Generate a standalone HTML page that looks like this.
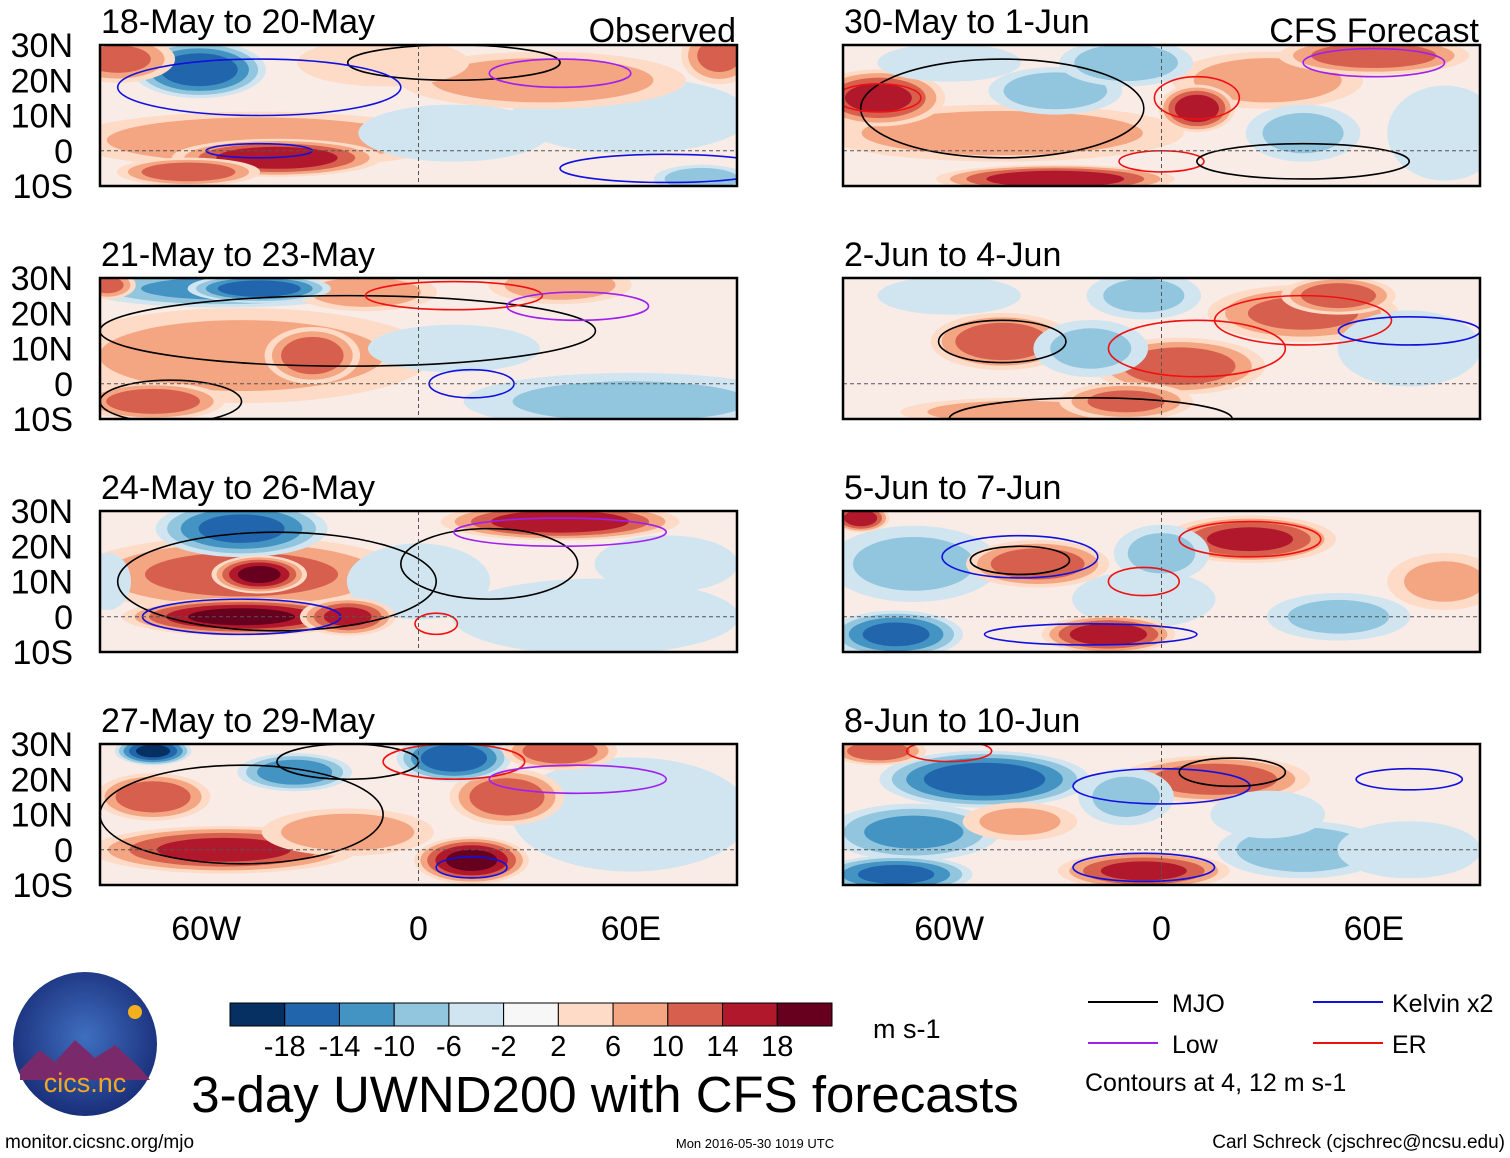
<!DOCTYPE html>
<html><head><meta charset="utf-8">
<style>
body{margin:0;background:#fff;}
svg{display:block;font-family:"Liberation Sans",sans-serif;}
</style></head>
<body>
<svg id="chart" width="1510" height="1158" viewBox="0 0 1510 1158" xmlns="http://www.w3.org/2000/svg">
<defs>
<radialGradient id="lg" cx="50%" cy="45%" r="55%"><stop offset="0" stop-color="#3f6fc0"/><stop offset="1" stop-color="#1a2f7a"/></radialGradient>
</defs>
<g id="panels"></g>
<g id="colorbar"></g>
<g>
<circle cx="85" cy="1044" r="72" fill="url(#lg)"/>
<path d="M20 1070 L40 1050 L55 1062 L75 1040 L95 1058 L115 1045 L140 1068 L150 1080 L20 1080Z" fill="#7a2a6a"/>
<circle cx="135" cy="1012" r="7" fill="#f2b01e"/>
<text x="85" y="1092" text-anchor="middle" font-size="27" fill="#f5a623">cics.nc</text>
</g>
<text x="873" y="1038" font-size="27">m s-1</text>
<text x="605" y="1112" text-anchor="middle" font-size="51">3-day UWND200 with CFS forecasts</text>
<g font-size="25">
<line x1="1088" y1="1002" x2="1158" y2="1002" stroke="#000" stroke-width="2"/><text x="1172" y="1012">MJO</text>
<line x1="1313" y1="1002" x2="1383" y2="1002" stroke="#1010e0" stroke-width="2"/><text x="1392" y="1012">Kelvin x2</text>
<line x1="1088" y1="1043" x2="1158" y2="1043" stroke="#a020f0" stroke-width="2"/><text x="1172" y="1053">Low</text>
<line x1="1313" y1="1043" x2="1383" y2="1043" stroke="#f01010" stroke-width="2"/><text x="1392" y="1053">ER</text>
<text x="1085" y="1091">Contours at 4, 12 m s-1</text>
</g>
<text x="5" y="1148" font-size="19">monitor.cicsnc.org/mjo</text>
<text x="755" y="1148" text-anchor="middle" font-size="13">Mon 2016-05-30 1019 UTC</text>
<text x="1505" y="1148" text-anchor="end" font-size="19">Carl Schreck (cjschrec@ncsu.edu)</text>
</svg>
<script>
const levels=[-18,-14,-10,-6,-2,2,6,10,14,18];
const colors=["#053061","#2166ac","#4393c3","#92c5de","#d1e5f0","#f7f7f7","#fddbc7","#f4a582","#d6604d","#b2182b","#67001f"];
const titles=["18-May to 20-May","21-May to 23-May","24-May to 26-May","27-May to 29-May","30-May to 1-Jun","2-Jun to 4-Jun","5-Jun to 7-Jun","8-Jun to 10-Jun"];
const latTicks=[30,20,10,0,-10];
const latLabels=["30N","20N","10N","0","10S"];
const lonTicks=[-60,0,60];
const lonLabels=["60W","0","60E"];
// blobs: [lon, lat, rxDeg, ryDeg, value]
const blobs0=[[-85,26,12,5,10],[-62,23,14,6,-16],[-45,3,40,6,9],[-40,-2,22,4,16],[-65,-6,15,3,12],[35,20,30,6,8],[10,5,20,6,-4],[60,10,25,8,-3],[85,27,8,6,10],[80,-8,10,3,-8],[-10,25,18,5,5]];
const blobs1=[[-55,27,30,4,-10],[-45,27,15,3,-16],[-88,28,6,3,10],[-50,8,40,10,7],[-30,8,10,6,12],[-75,-5,15,4,12],[60,-5,35,6,-6],[40,28,15,4,8],[-15,26,15,4,8],[10,10,18,5,-4]];
const blobs2=[[-50,25,18,6,-14],[-50,12,35,8,10],[-45,12,10,4,18],[-50,0,25,4,18],[-20,0,10,4,14],[40,27,25,4,16],[50,0,30,8,-4],[-88,10,5,6,-4],[0,10,15,8,-3],[70,15,15,6,-4]];
const blobs3=[[-75,28,8,3,-18],[-35,22,12,4,-12],[10,26,12,5,-16],[-75,15,12,5,12],[-55,0,28,5,14],[-20,5,18,5,8],[15,-3,12,5,18],[25,15,12,6,12],[60,10,25,12,-4],[40,28,12,4,12]];
const blobs4=[[-80,15,14,6,14],[-45,5,38,6,8],[-30,17,14,5,-8],[-10,25,14,5,-8],[-30,-8,25,3,16],[10,12,8,5,16],[30,20,20,6,8],[60,27,20,4,12],[40,5,12,6,-6],[80,5,12,10,-4],[-60,25,15,4,-5]];
const blobs5=[[-45,12,15,6,12],[-20,10,12,6,-6],[-5,25,12,5,-6],[5,5,18,6,12],[40,20,20,6,10],[50,25,12,4,12],[-40,-8,25,3,8],[-10,-5,14,4,10],[-60,25,15,4,-4],[70,10,15,8,-3]];
const blobs6=[[-85,28,6,3,16],[-70,15,18,8,-6],[-35,15,15,5,12],[-75,-5,14,5,-14],[-15,-5,14,4,16],[25,22,18,5,14],[0,18,10,6,-6],[50,0,15,5,-6],[80,10,12,6,6],[-5,5,15,6,-3]];
const blobs7=[[-80,28,10,3,12],[-50,20,22,6,-16],[-70,5,18,6,-10],[-75,-7,16,4,-14],[-40,8,12,4,6],[15,20,20,5,12],[-5,-6,18,4,14],[-10,15,10,6,-6],[40,0,18,6,-8],[30,10,12,5,-4],[70,0,15,6,-3]];
const blobSets=[blobs0,blobs1,blobs2,blobs3,blobs4,blobs5,blobs6,blobs7];
// contours: [type, lon, lat, rxDeg, ryDeg]
const cont=[
[["k",10,25,30,5],["b",-45,18,40,8],["b",-45,0,15,2],["p",40,22,20,4],["b",70,-5,30,4]],
[["k",-20,15,70,10],["k",-70,-5,20,6],["r",10,25,25,4],["p",45,22,20,4],["b",15,0,12,4]],
[["k",-40,10,45,14],["b",-50,0,28,5],["k",20,15,25,10],["p",40,24,30,4],["r",5,-2,6,3]],
[["k",-50,10,40,14],["k",-20,25,20,5],["r",10,25,20,5],["b",15,-5,10,3],["p",45,20,25,4]],
[["k",-45,12,40,14],["r",-80,15,12,4],["r",10,15,12,6],["r",0,-3,12,3],["k",40,-3,30,5],["p",60,25,20,4]],
[["k",-45,12,18,6],["r",10,10,25,8],["r",40,18,25,7],["k",-20,-10,40,6],["b",70,15,20,4]],
[["k",-40,16,14,4],["b",-40,17,22,6],["r",-5,10,10,4],["r",25,22,20,5],["b",-20,-5,30,3]],
[["b",0,18,25,5],["k",20,22,15,4],["b",-5,-5,20,4],["r",-60,28,12,3],["b",70,20,15,3]]
];
const stroke={k:"#000",b:"#1010e0",p:"#a020f0",r:"#f01010"};
const pw=637,ph=141,grow=1.35;
const origins=[[100,45],[100,278],[100,511],[100,744],[843,45],[843,278],[843,511],[843,744]];
const NS="http://www.w3.org/2000/svg";
function el(t,a,p){const e=document.createElementNS(NS,t);for(const k in a)e.setAttribute(k,a[k]);p.appendChild(e);return e;}
function colorFor(v){let i=0;while(i<levels.length&&v>=levels[i])i++;return colors[i];}
const root=document.getElementById("panels");
origins.forEach((o,pi)=>{
 const [ox,oy]=o;
 const xs=lon=>ox+(lon+90)*pw/180;
 const ys=lat=>oy+(30-lat)*ph/40;
 const g=el("g",{},root);
 
 
 const cid="c"+pi;
 const cp=el("clipPath",{id:cid},g);el("rect",{x:ox,y:oy,width:pw,height:ph},cp);
 const bg=el("rect",{x:ox,y:oy,width:pw,height:ph,fill:"#f9ece6"},g);
 
 
 const fg=el("g",{"clip-path":"url(#"+cid+")"},g);
 const bl=blobSets[pi].slice().sort((a,b)=>(b[2]*b[3])-(a[2]*a[3]));
 bl.forEach(b=>{
  const [lon,lat,rx,ry,v]=b;const sgn=v<0?-1:1;const av=Math.abs(v);
  for(let l=2;l<=av;l+=4){
   const s=Math.max(0.2,Math.sqrt(1-(l-2)/(av+2)));
   const e=el("ellipse",{cx:xs(lon),cy:ys(lat),rx:rx*grow*s*pw/180,ry:ry*grow*s*ph/40,fill:colorFor(sgn*(l+1))},fg);
   
   
  }
 });
 cont[pi].forEach(c=>{
  const e=el("ellipse",{cx:xs(c[1]),cy:ys(c[2]),rx:c[3]*pw/180,ry:c[4]*ph/40,fill:"none",stroke:stroke[c[0]],"stroke-width":1.6},fg);
  
  
 });
 el("line",{x1:ox,x2:ox+pw,y1:ys(0),y2:ys(0),stroke:"#555","stroke-dasharray":"4 3","stroke-width":1},fg);
 el("line",{x1:xs(0),x2:xs(0),y1:oy,y2:oy+ph,stroke:"#555","stroke-dasharray":"4 3","stroke-width":1},fg);
 const fr=el("rect",{x:ox,y:oy,width:pw,height:ph,fill:"none",stroke:"#000","stroke-width":2.5},g);
 
 
 const t=el("text",{x:ox+1,y:oy-12,"font-size":34},g);t.textContent=titles[pi];
 
 
 if(pi===0||pi===4){const r=el("text",{x:ox+pw-1,y:oy-3,"font-size":34,"text-anchor":"end"},g);r.textContent=pi===0?"Observed":"CFS Forecast";
  
  }
 if(pi<4){latTicks.forEach((la,i)=>{const tt=el("text",{x:73,y:ys(la)+12,"font-size":34,"text-anchor":"end"},g);tt.textContent=latLabels[i];
  
  });}
 if(pi===3||pi===7){lonTicks.forEach((lo,i)=>{const tt=el("text",{x:xs(lo),y:940,"font-size":34,"text-anchor":"middle"},g);tt.textContent=lonLabels[i];
  
  });}
});
const cb=document.getElementById("colorbar");


const bw=602/colors.length;
colors.forEach((c,i)=>{const r=el("rect",{x:230+i*bw,y:1003,width:bw,height:23,fill:c,stroke:"#000","stroke-width":1},cb);
 
 });
levels.forEach((l,i)=>{const t=el("text",{x:230+(i+1)*bw,y:1056,"font-size":29,"text-anchor":"middle"},cb);t.textContent=l;
 
 });
</script>
</body></html>
